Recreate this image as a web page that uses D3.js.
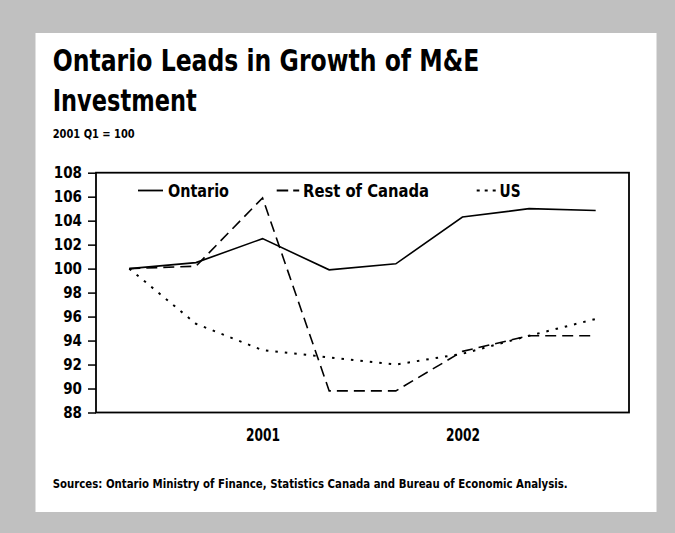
<!DOCTYPE html>
<html>
<head>
<meta charset="utf-8">
<script src="https://cdn.jsdelivr.net/npm/d3@7"></script>
<style>
  body { margin: 0; background: #c0c0c0; }
  svg text { font-family: "Liberation Sans Narrow", "DejaVu Sans Condensed", "Arial Narrow", sans-serif; font-weight: bold; fill: #000; }
</style>
</head>
<body>
<div id="chart"></div>
<script>
const quarters = ["2001Q1", "2001Q2", "2001Q3", "2001Q4", "2002Q1", "2002Q2", "2002Q3", "2002Q4"];
const ontario = [100, 100.5, 102.5, 99.9, 100.4, 104.3, 105.0, 104.85];
const restOfCanada = [100, 100.2, 105.9, 89.8, 89.8, 93.1, 94.4, 94.4];
const us = [100, 95.4, 93.2, 92.6, 92.0, 92.9, 94.4, 95.8];
const yTicks = [88, 90, 92, 94, 96, 98, 100, 102, 104, 106, 108];
const yearTicks = ["2001Q3", "2002Q2"];

const series = [
  { name: "Ontario", values: ontario, dash: null },
  { name: "Rest of Canada", values: restOfCanada, dash: "11,6" },
  { name: "US", values: us, dash: "2.5,7" },
];

const width = 675,
  height = 533,
  plot = { left: 96, right: 629, top: 172.7, bottom: 412.5 };

const svg = d3
  .select("#chart")
  .append("svg")
  .attr("width", width)
  .attr("height", height);

svg.append("rect").attr("width", width).attr("height", height).attr("fill", "#c0c0c0");
svg
  .append("rect")
  .attr("x", 35.5)
  .attr("y", 33)
  .attr("width", 621)
  .attr("height", 479)
  .attr("fill", "#fff");

// fitted text helper
function label(x, y, str, size, len, anchor) {
  const t = svg
    .append("text")
    .attr("x", x)
    .attr("y", y)
    .attr("font-size", size)
    .attr("text-anchor", anchor || "start")
    .text(str);
  if (len) t.attr("textLength", len).attr("lengthAdjust", "spacingAndGlyphs");
  return t;
}

label(52.7, 71, "Ontario Leads in Growth of M&E", 31, 426.6);
label(52.7, 110.5, "Investment", 31, 144);
label(52.7, 138.3, "2001 Q1 = 100", 11.5, 82);
label(52.7, 488.3, "Sources:  Ontario Ministry of Finance, Statistics Canada and Bureau of Economic Analysis.", 13, 515);

const x = d3.scalePoint().domain(quarters).range([plot.left, plot.right]).padding(0.5);
const y = d3.scaleLinear().domain([88, 108]).range([plot.bottom, plot.top]);

const yAxis = d3.axisLeft(y).tickValues(yTicks).tickSize(8).tickPadding(6).tickFormat(d3.format("d"));
const yAxisGroup = svg.append("g").attr("transform", `translate(${plot.left}, 0)`).call(yAxis);
yAxisGroup.select(".domain").remove();
yAxisGroup.selectAll(".tick line").attr("stroke", "#000").attr("stroke-width", 1.5);
yAxisGroup
  .selectAll(".tick text")
  .attr("font-size", 15.5)
  .attr("fill", "#000")
  .attr("textLength", (d) => String(d).length * 9.4)
  .attr("lengthAdjust", "spacingAndGlyphs");

const xAxis = d3.axisBottom(x).tickValues(yearTicks).tickSize(0).tickPadding(16.5).tickFormat((d) => d.slice(0, 4));
const xAxisGroup = svg.append("g").attr("transform", `translate(0, ${plot.bottom})`).call(xAxis);
xAxisGroup.select(".domain").remove();
xAxisGroup
  .selectAll(".tick text")
  .attr("font-size", 17)
  .attr("fill", "#000")
  .attr("textLength", 34)
  .attr("lengthAdjust", "spacingAndGlyphs");

// frame
svg
  .append("rect")
  .attr("x", plot.left)
  .attr("y", plot.top)
  .attr("width", plot.right - plot.left)
  .attr("height", plot.bottom - plot.top)
  .attr("fill", "none")
  .attr("stroke", "#000")
  .attr("stroke-width", 1.8);

const line = d3
  .line()
  .x((d, i) => x(quarters[i]))
  .y((d) => y(d));

svg
  .append("g")
  .selectAll("path")
  .data(series)
  .enter()
  .append("path")
  .attr("fill", "none")
  .attr("stroke", "#000")
  .attr("stroke-width", (d) => (d.dash === "2.5,7" ? 2 : 1.6))
  .attr("stroke-dasharray", (d) => d.dash)
  .attr("d", (d) => line(d.values));

// legend
const legendItems = [
  { x1: 138, x2: 163, dash: null, tx: 168, len: 61 },
  { x1: 276.7, x2: 299.3, dash: "11.5,5,6", tx: 303, len: 126 },
  { x1: 476.7, x2: 496.7, dash: "3,5", tx: 499.5, len: 21 },
];
const legend = svg
  .selectAll(".legend")
  .data(series)
  .enter()
  .append("g")
  .attr("class", "legend");

legend
  .append("line")
  .attr("x1", (d, i) => legendItems[i].x1)
  .attr("x2", (d, i) => legendItems[i].x2)
  .attr("y1", 190.5)
  .attr("y2", 190.5)
  .attr("stroke", "#000")
  .attr("stroke-width", 1.8)
  .attr("stroke-dasharray", (d, i) => legendItems[i].dash);

legend
  .append("text")
  .attr("x", (d, i) => legendItems[i].tx)
  .attr("y", 196.5)
  .attr("font-size", 18)
  .attr("textLength", (d, i) => legendItems[i].len)
  .attr("lengthAdjust", "spacingAndGlyphs")
  .text((d) => d.name);
</script>
</body>
</html>
